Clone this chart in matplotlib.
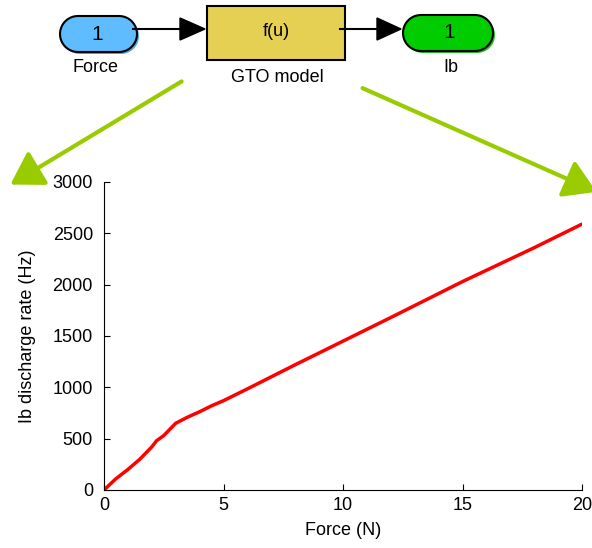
import numpy as np
import matplotlib.pyplot as plt
from matplotlib.patches import Rectangle, FancyArrowPatch, Polygon

plt.rcParams['font.family'] = ['Liberation Sans', 'DejaVu Sans']

# =====================================
# Data
# =====================================
force = [0, 0.5, 1, 1.5, 2, 2.2, 2.5, 3, 3.5, 4, 4.5, 5, 6, 8, 10, 12, 15, 18, 20]
ib_rate = [0, 110, 200, 300, 420, 480, 530, 650, 710, 762, 820, 870, 985,
           1220, 1450, 1680, 2030, 2360, 2590]

x_ticks = [0, 5, 10, 15, 20]
y_ticks = [0, 500, 1000, 1500, 2000, 2500, 3000]

W, H = 592, 548
fig = plt.figure(figsize=(W / 100, H / 100), dpi=100)

# =====================================
# Plot
# =====================================
ax = fig.add_axes([104 / W, 1 - 490 / H, 478 / W, 308 / H])
ax.plot(force, ib_rate, color='#ff0000', linewidth=2.5, solid_capstyle='round')
ax.set_xlim(0, 20)
ax.set_ylim(0, 3000)
ax.set_xticks(x_ticks)
ax.set_yticks(y_ticks)
ax.spines['top'].set_visible(False)
ax.spines['right'].set_visible(False)
ax.tick_params(direction='in', labelsize=13, length=4)
ax.tick_params(axis='y', pad=8)
ax.tick_params(axis='x', pad=5)
ax.set_xlabel('Force (N)', fontsize=13, labelpad=6)
ax.set_ylabel('Ib discharge rate (Hz)', fontsize=13, labelpad=12)


# =====================================
# Block diagram overlay (pixel coordinates)
# =====================================
def pill(x0, y0, w, h, **kw):
    r = h / 2
    t1 = np.linspace(-np.pi / 2, np.pi / 2, 30)
    t2 = np.linspace(np.pi / 2, 3 * np.pi / 2, 30)
    right = np.c_[x0 + w - r + r * np.cos(t1), y0 + r + r * np.sin(t1)]
    left = np.c_[x0 + r + r * np.cos(t2), y0 + r + r * np.sin(t2)]
    return Polygon(np.vstack([right, left]), closed=True, **kw)


ov = fig.add_axes([0, 0, 1, 1])
ov.set_xlim(0, W)
ov.set_ylim(H, 0)
ov.axis('off')

# Input port (blue pill)
ov.add_patch(pill(62, 18, 77, 36, facecolor='#4aa8e8', edgecolor='none'))
ov.add_patch(pill(60, 16, 77, 36, facecolor='#5fbcff', edgecolor='black', linewidth=1.5))
ov.text(97, 34, '1', ha='center', va='center', fontsize=15)
ov.text(95, 67, 'Force', ha='center', va='center', fontsize=13)

# GTO model block
ov.add_patch(Rectangle((207, 6), 138, 54, facecolor='#e6d054', edgecolor='black', linewidth=1.5))
ov.text(276, 32, 'f(u)', ha='center', va='center', fontsize=13)
ov.text(277, 77, 'GTO model', ha='center', va='center', fontsize=13)

# Output port (green pill)
ov.add_patch(pill(405, 17, 90, 36, facecolor='#22bb22', edgecolor='none'))
ov.add_patch(pill(403, 15, 90, 36, facecolor='#00cc00', edgecolor='black', linewidth=1.5))
ov.text(449, 33, '1', ha='center', va='center', fontsize=15)
ov.text(451, 68, 'Ib', ha='center', va='center', fontsize=13)

# Signal lines with filled triangle heads
ov.plot([133, 182], [29, 29], color='black', linewidth=1.5)
ov.add_patch(Polygon([[180, 18], [180, 40], [205, 29]], closed=True, color='black'))
ov.plot([340, 379], [29, 29], color='black', linewidth=1.5)
ov.add_patch(Polygon([[377, 18], [377, 40], [401, 29]], closed=True, color='black'))

# Green zoom arrows
green = '#99cc00'
ov.add_patch(FancyArrowPatch((184, 80), (8, 186), arrowstyle='-|>,head_length=13,head_width=8',
                             color=green, linewidth=3, mutation_scale=1.5, clip_on=False))
ov.add_patch(FancyArrowPatch((360, 87), (599, 193), arrowstyle='-|>,head_length=13,head_width=8',
                             color=green, linewidth=3, mutation_scale=1.5, clip_on=False))

plt.savefig('out.png', dpi=100)
